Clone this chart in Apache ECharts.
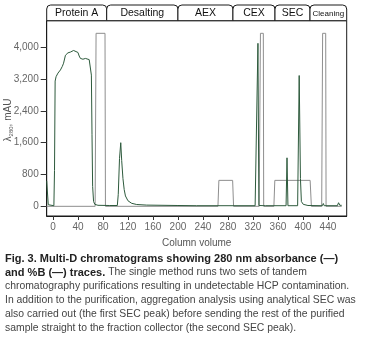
<!DOCTYPE html>
<html><head><meta charset="utf-8">
<script src="https://cdn.jsdelivr.net/npm/echarts@6/dist/echarts.min.js"></script>
<style>html,body{margin:0;padding:0;background:#fff}#c{width:366px;height:339px}</style>
</head><body><div id="c"></div>
<script>
// ---- data ----
const xTicks = [0, 40, 80, 120, 160, 200, 240, 280, 320, 360, 400, 440];
const yTicks = [0, 800, 1600, 2400, 3200, 4000];

// 280 nm absorbance (mAU) vs column volume
const absCV  = [-10, -9, -7.5, -6, 1.5, 2.5, 3.5, 5, 8, 12, 15, 17, 20, 24, 28, 31, 33, 36, 40, 42, 44, 48, 52, 55, 58, 60.5, 61.5, 62.5, 63.5, 65, 67, 72, 90, 103, 104.5, 106.5, 108.5, 110, 112, 114, 116, 120, 126, 134, 150, 200, 230, 323.5, 328, 329.5, 340, 373, 374.5, 376, 391.5, 394, 396, 397.5, 400.5, 408, 431, 432.6, 434, 455, 457, 459, 462];
const absMAU = [640, 620, 40, 15, 15, 900, 3150, 3260, 3350, 3430, 3520, 3600, 3800, 3860, 3880, 3930, 3920, 3890, 3870, 3780, 3720, 3700, 3720, 3700, 3690, 3680, 3300, 1800, 500, 120, 50, 25, 20, 20, 300, 1200, 1600, 1150, 700, 420, 260, 140, 75, 45, 30, 20, 15, 15, 4100, 20, 15, 15, 1220, 15, 15, 3290, 700, 120, 50, 20, 15, 70, 15, 15, 90, 25, 25];

// %B trace (percent) vs column volume
const pctCV = [-10, 67.5, 69, 83.3, 84, 264, 265.5, 287.5, 289, 330, 332, 336.6, 337.2, 353.5, 355, 411.5, 413.5, 430, 431.5, 436.4, 437, 462];
const pctB  = [0, 0, 100, 100, 0, 0, 15, 15, 0, 0, 100, 100, 0, 0, 15, 15, 0, 0, 100, 100, 0, 0];

// method stages (tabs above the plot), boundaries in column volume
const stageNames  = ['Protein A', 'Desalting', 'AEX', 'CEX', 'SEC', 'Cleaning'];
const stageBounds = [-10, 86, 200, 288, 355.3, 411.3, 470];

const captionLines = [
  [['b', 'Fig. 3. Multi-D chromatograms showing 280 nm absorbance (\u2014)']],
  [['b', 'and %B (\u2014) traces.'], ['n', ' The single method runs two sets of tandem']],
  [['n', 'chromatography purifications resulting in undetectable HCP contamination.']],
  [['n', 'In addition to the purification, aggregation analysis using analytical SEC was']],
  [['n', 'also carried out (the first SEC peak) before sending the rest of the purified']],
  [['n', 'sample straight to the fraction collector (the second SEC peak).']]
];

// ---- chart ----
const FONT = 'Liberation Sans';
const GREEN = '#2d5a3c';
const GRAY = '#8e8e8e';
const chart = echarts.init(document.getElementById('c'), null, {renderer: 'canvas'});

const absData = absCV.map((x, i) => [x, absMAU[i]]);
const pctData = pctCV.map((x, i) => [x, pctB[i]]);

const fmt = v => v.toLocaleString('en-US');

chart.setOption({
  animation: false,
  backgroundColor: '#fff',
  textStyle: {fontFamily: FONT},
  grid: {left: 46.7, right: 19.3, top: 20.7, bottom: 123, show: true, borderColor: '#1a1a1a', borderWidth: 1, backgroundColor: 'transparent'},
  xAxis: {
    type: 'value', min: -10, max: 470,
    name: 'Column volume', nameLocation: 'middle', nameGap: 22,
    nameTextStyle: {fontSize: 10, color: '#555', fontFamily: FONT},
    axisLine: {show: true, onZero: false, lineStyle: {color: '#1a1a1a', width: 1}},
    axisTick: {show: true, length: 4, customValues: xTicks, lineStyle: {color: '#333'}},
    axisLabel: {customValues: xTicks, fontSize: 10, color: '#666', margin: 6, fontFamily: FONT},
    splitLine: {show: false}
  },
  yAxis: [{
    type: 'value', min: -244, max: 4669,
    axisLine: {show: true, onZero: false, lineStyle: {color: '#1a1a1a', width: 1}},
    axisTick: {show: true, length: 6, customValues: yTicks, lineStyle: {color: '#333'}},
    axisLabel: {customValues: yTicks, fontSize: 10, color: '#666', margin: 8, formatter: fmt, fontFamily: FONT},
    splitLine: {show: false}
  }, {
    type: 'value', min: -5.6, max: 107.3, show: false
  }],
  series: [{
    name: '%B', type: 'line', yAxisIndex: 1, data: pctData, showSymbol: false,
    lineStyle: {color: GRAY, width: 1}, z: 2
  }, {
    name: 'A280', type: 'line', yAxisIndex: 0, data: absData, showSymbol: false,
    lineStyle: {color: GREEN, width: 1}, z: 3
  }]
});

// ---- tabs, axis title and caption as graphics ----
const graphics = [];
const tabTop = 5, tabBottom = 20.7;
for (let i = 0; i < stageNames.length; i++) {
  const x0 = chart.convertToPixel({xAxisIndex: 0}, stageBounds[i]);
  const x1 = chart.convertToPixel({xAxisIndex: 0}, stageBounds[i + 1]);
  graphics.push({
    type: 'rect', shape: {x: x0, y: tabTop, width: x1 - x0, height: tabBottom - tabTop, r: [4, 4, 0, 0]},
    style: {fill: '#fff', stroke: '#1a1a1a', lineWidth: 1}, z: 10
  });
  graphics.push({
    type: 'text', x: (x0 + x1) / 2, y: (tabTop + tabBottom) / 2 + 0.5, z: 11,
    style: {text: stageNames[i], fill: '#111', font: (stageNames[i] === 'Cleaning' ? '8px ' : '10.5px ') + FONT,
            align: 'center', verticalAlign: 'middle'}
  });
}
graphics.push({
  type: 'text', x: 8, y: 120, rotation: Math.PI / 2, z: 11,
  style: {
    text: '{a|\u03bb}{s|280}{a|, mAU}', align: 'center', verticalAlign: 'middle',
    rich: {a: {fontSize: 10, fill: '#555', fontFamily: FONT, lineHeight: 12},
           s: {fontSize: 6, fill: '#555', fontFamily: FONT, verticalAlign: 'bottom', lineHeight: 12, padding: [4, 0, 0, 0]}}
  }
});
captionLines.forEach((parts, i) => {
  const txt = parts.map(p => '{' + p[0] + '|' + p[1] + '}').join('');
  graphics.push({
    type: 'text', x: 5, y: 258.5 + i * 14, z: 11,
    style: {
      text: txt, align: 'left', verticalAlign: 'middle',
      rich: {b: {fontSize: 11, fontWeight: 'bold', fill: '#222', fontFamily: FONT},
             n: {fontSize: 10.4, fill: '#444', fontFamily: FONT}}
    }
  });
});
chart.setOption({graphic: graphics});
</script>
</body></html>
